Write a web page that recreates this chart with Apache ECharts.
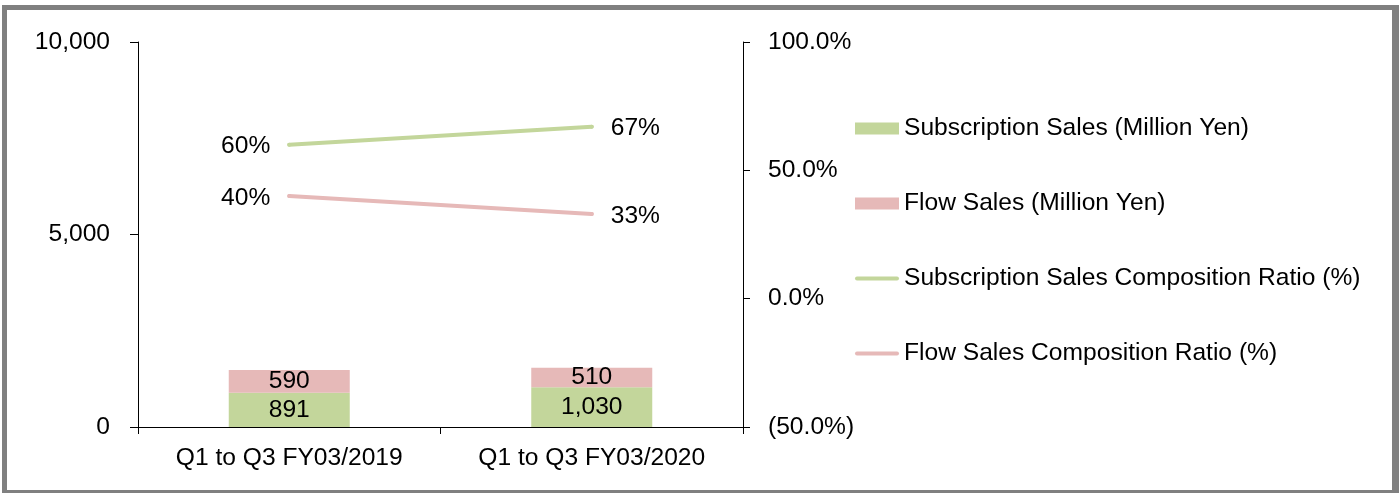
<!DOCTYPE html>
<html>
<head>
<meta charset="utf-8">
<script src="https://cdn.jsdelivr.net/npm/echarts@6/dist/echarts.min.js"></script>
<style>
  html, body { margin: 0; padding: 0; background: #fff; overflow: hidden; }
  #chart { position: absolute; left: 0; top: 0; width: 1399px; height: 493px; }
  #frame { position: absolute; left: 2px; top: 5px; width: 1397px; height: 490px; box-sizing: border-box;
           border-style: solid; border-color: #808080; border-width: 5px 7px 5px 5px; pointer-events: none; }
</style>
</head>
<body>
<div id="chart"></div>
<div id="frame"></div>
<script>
const categories = ['Q1 to Q3 FY03/2019', 'Q1 to Q3 FY03/2020'];
const subscriptionSales = [891, 1030];
const flowSales = [590, 510];
const subscriptionRatio = [60, 67];
const flowRatio = [40, 33];
const leftTicks = [0, 5000, 10000];
const rightTicks = [-50, 0, 50, 100];

const seriesNames = [
  'Subscription Sales (Million Yen)',
  'Flow Sales (Million Yen)',
  'Subscription Sales Composition Ratio (%)',
  'Flow Sales Composition Ratio (%)'
];
const GREEN = '#C3D69B';
const PINK = '#E6B9B8';
const FONT = "'Liberation Sans', Arial, sans-serif";
const FS = 24.6;
const LINE_ICON = 'path://M2,0 L42,0 A2,2 0 0 1 42,4 L2,4 A2,2 0 0 1 2,0 Z';

function ratioData(arr) {
  return arr.map((v, i) => ({ value: v, label: { position: i === 0 ? 'left' : 'right' } }));
}

const chart = echarts.init(document.getElementById('chart'), null, { renderer: 'canvas' });
chart.setOption({
  animation: false,
  textStyle: { fontFamily: FONT, color: '#000' },
  grid: { left: 138, right: 656, top: 42, bottom: 66, containLabel: false },
  legend: {
    orient: 'vertical',
    left: 855,
    top: 116,
    padding: 0,
    itemWidth: 44,
    itemHeight: 12,
    itemGap: 50,
    symbolKeepAspect: true,
    textStyle: { fontFamily: FONT, fontSize: FS, color: '#000', lineHeight: 24 },
    data: [
      { name: seriesNames[0], icon: 'rect' },
      { name: seriesNames[1], icon: 'rect' },
      { name: seriesNames[2], icon: LINE_ICON },
      { name: seriesNames[3], icon: LINE_ICON }
    ]
  },
  xAxis: {
    type: 'category',
    data: categories,
    axisLine: { lineStyle: { color: '#000', width: 1 } },
    axisTick: { show: true, inside: false, length: 7, lineStyle: { color: '#000' } },
    axisLabel: { fontFamily: FONT, fontSize: FS, color: '#000', margin: 19 },
    splitLine: { show: false }
  },
  yAxis: [
    {
      type: 'value',
      min: leftTicks[0],
      max: leftTicks[leftTicks.length - 1],
      interval: leftTicks[1] - leftTicks[0],
      axisLine: { show: true, lineStyle: { color: '#000', width: 1 } },
      axisTick: { show: true, length: 8, lineStyle: { color: '#000' } },
      axisLabel: { fontFamily: FONT, fontSize: FS, color: '#000', margin: 28,
        formatter: v => v.toLocaleString('en-US') },
      splitLine: { show: false }
    },
    {
      type: 'value',
      position: 'right',
      min: rightTicks[0],
      max: rightTicks[rightTicks.length - 1],
      interval: rightTicks[1] - rightTicks[0],
      axisLine: { show: true, lineStyle: { color: '#000', width: 1 } },
      axisTick: { show: true, length: 7, lineStyle: { color: '#000' } },
      axisLabel: { fontFamily: FONT, fontSize: FS, color: '#000', margin: 25,
        formatter: v => v < 0 ? '(' + Math.abs(v).toFixed(1) + '%)' : v.toFixed(1) + '%' },
      splitLine: { show: false }
    }
  ],
  series: [
    {
      name: seriesNames[0],
      type: 'bar',
      stack: 'sales',
      barWidth: '40%',
      data: subscriptionSales,
      itemStyle: { color: GREEN },
      label: { show: true, position: 'inside', fontFamily: FONT, fontSize: FS, color: '#000',
        formatter: p => p.value.toLocaleString('en-US') }
    },
    {
      name: seriesNames[1],
      type: 'bar',
      stack: 'sales',
      barWidth: '40%',
      data: flowSales,
      itemStyle: { color: PINK },
      label: { show: true, position: 'inside', fontFamily: FONT, fontSize: FS, color: '#000',
        formatter: p => p.value.toLocaleString('en-US') }
    },
    {
      name: seriesNames[2],
      type: 'line',
      yAxisIndex: 1,
      symbol: 'circle',
      symbolSize: 4,
      showSymbol: true,
      data: ratioData(subscriptionRatio),
      itemStyle: { color: GREEN },
      lineStyle: { color: GREEN, width: 4, cap: 'round' },
      label: { show: true, distance: 17, offset: [0, 2], fontFamily: FONT, fontSize: FS, color: '#000', formatter: '{c}%' },
      z: 5
    },
    {
      name: seriesNames[3],
      type: 'line',
      yAxisIndex: 1,
      symbol: 'circle',
      symbolSize: 4,
      showSymbol: true,
      data: ratioData(flowRatio),
      itemStyle: { color: PINK },
      lineStyle: { color: PINK, width: 4, cap: 'round' },
      label: { show: true, distance: 17, offset: [0, 2], fontFamily: FONT, fontSize: FS, color: '#000', formatter: '{c}%' },
      z: 5
    }
  ]
});
</script>
</body>
</html>
